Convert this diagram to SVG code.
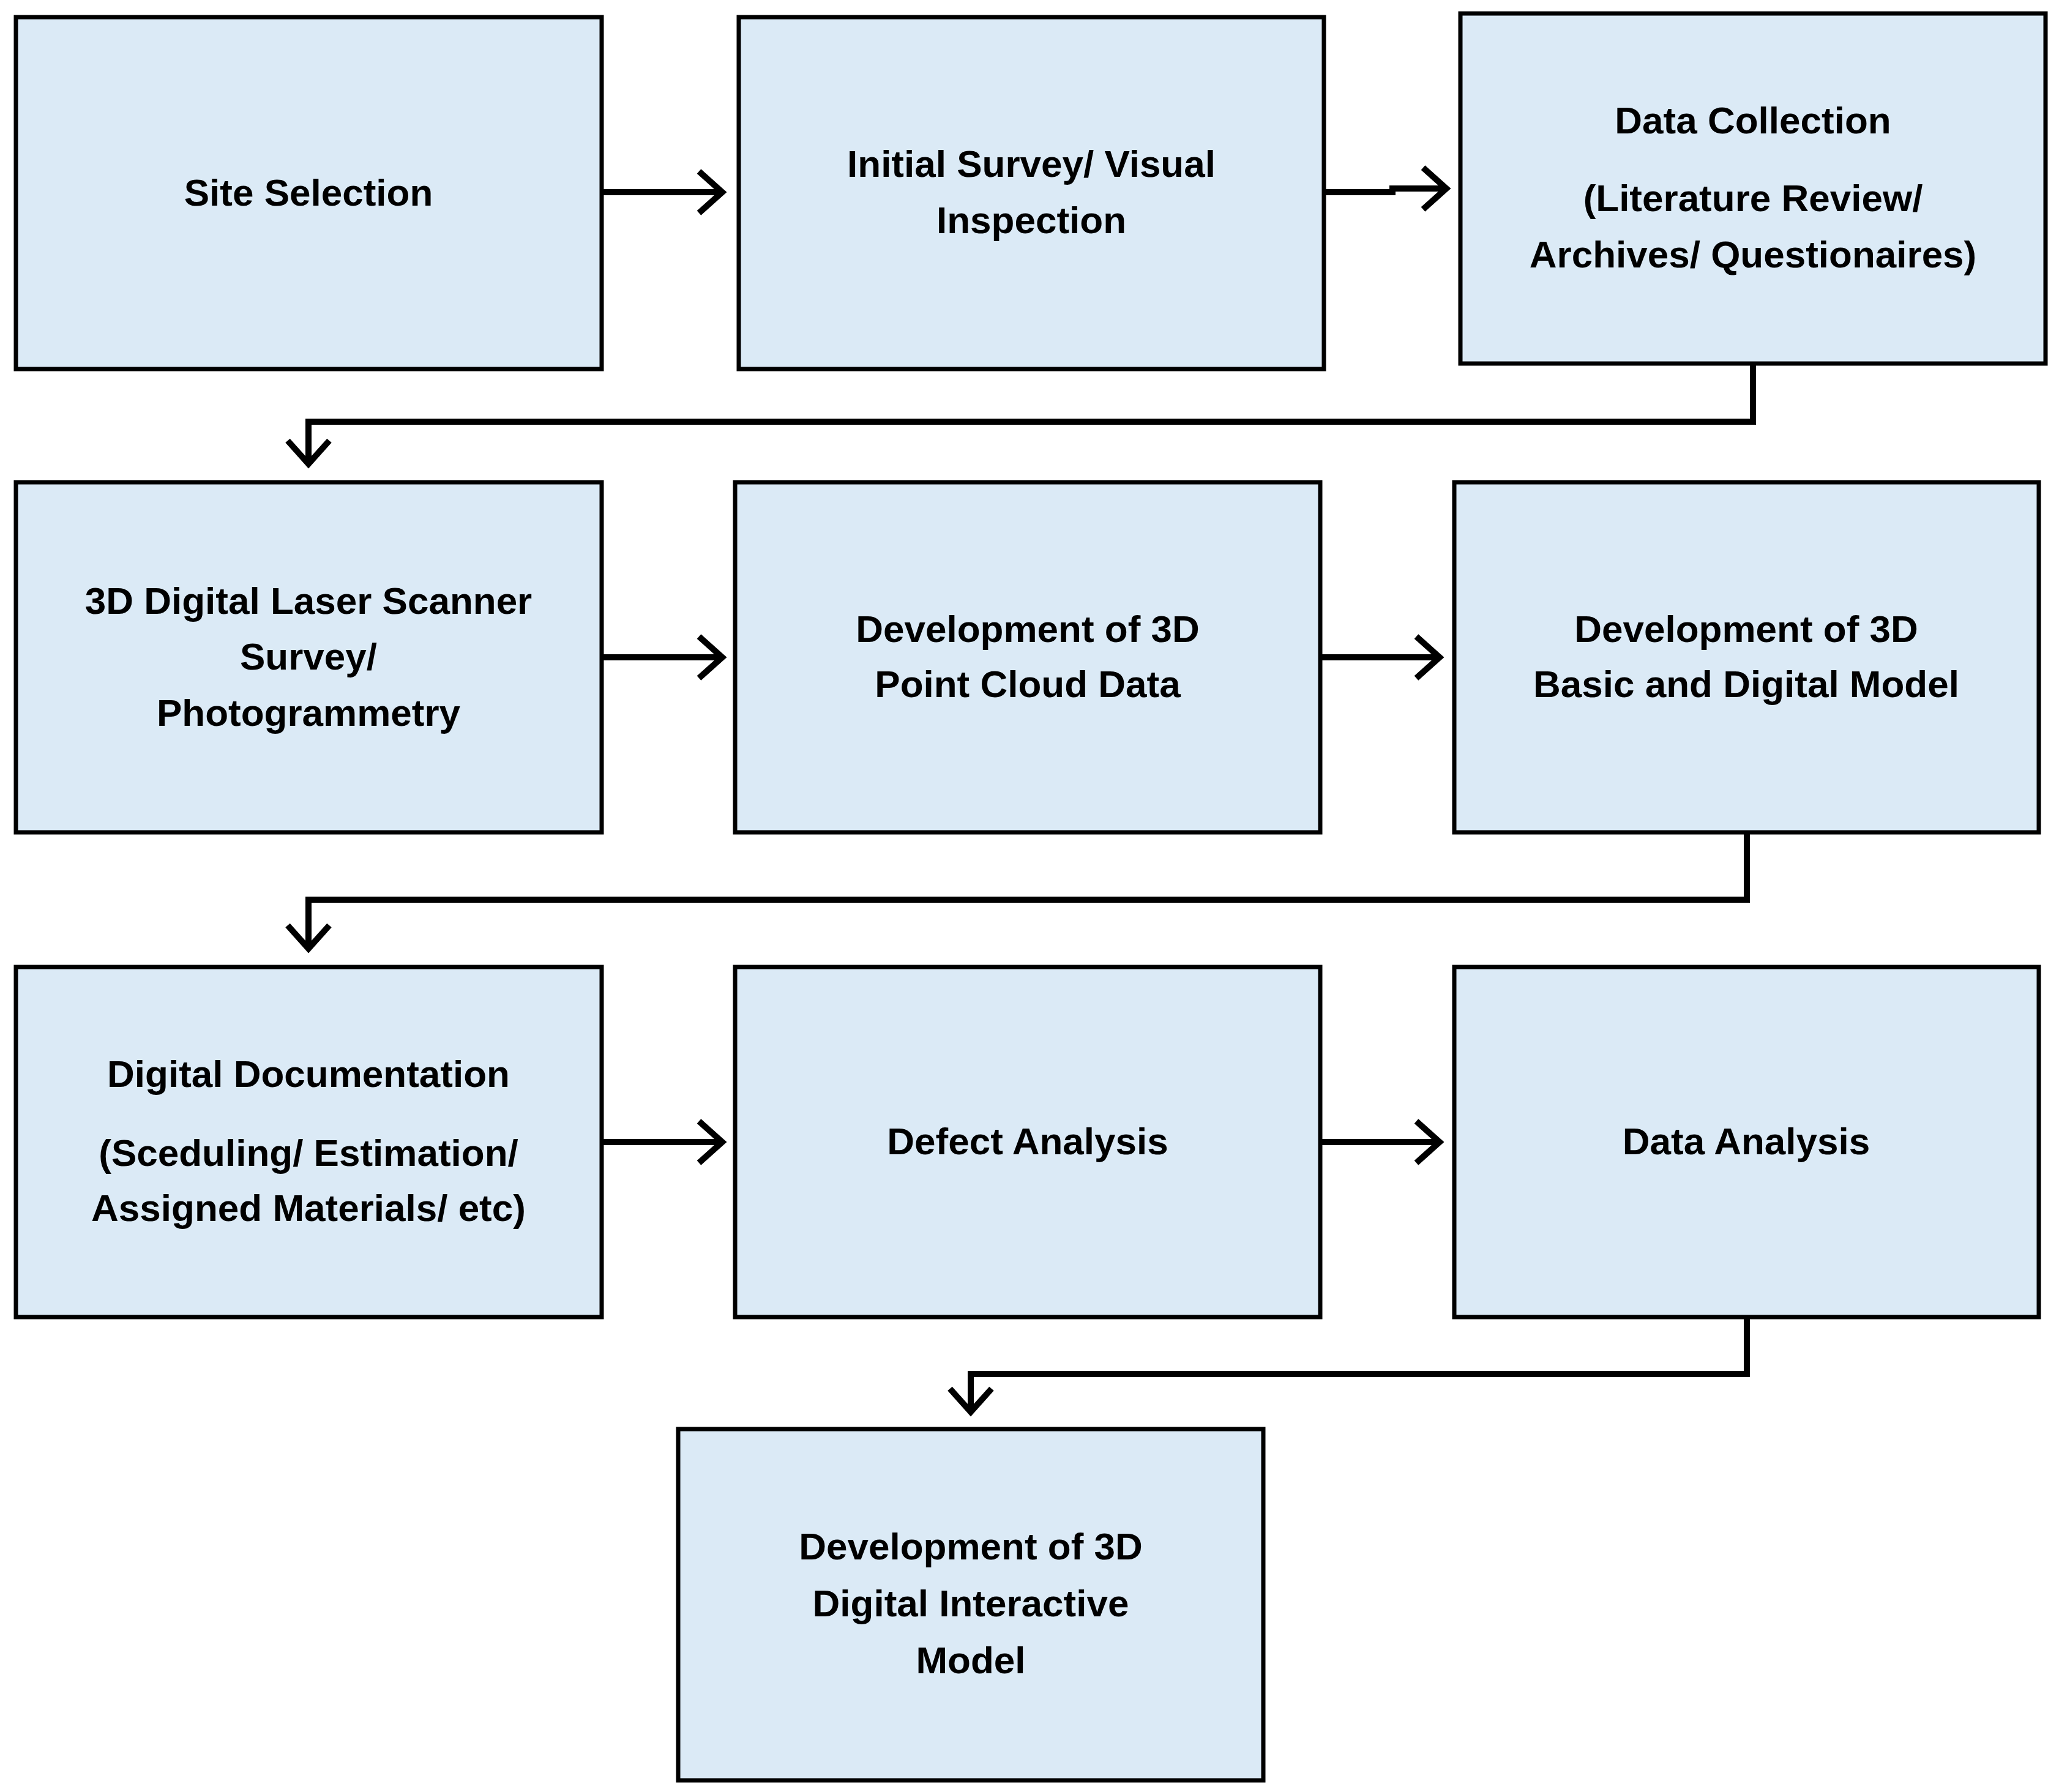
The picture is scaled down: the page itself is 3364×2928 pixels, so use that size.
<svg xmlns="http://www.w3.org/2000/svg" width="3364" height="2928" viewBox="0 0 3364 2928">
<style>
.b{fill:#dbeaf6;stroke:#000;stroke-width:7}
.t{font-family:"Liberation Sans",Arial,sans-serif;font-weight:bold;font-size:62px;text-anchor:middle;dominant-baseline:central;fill:#000}
.c{fill:none;stroke:#000;stroke-width:10;marker-end:url(#a)}
</style>
<defs><marker id="a" markerUnits="userSpaceOnUse" markerWidth="60" markerHeight="80" refX="52" refY="40" orient="auto"><path d="M14,6 L52,40 L14,74" fill="none" stroke="#000" stroke-width="10"/></marker></defs>
<rect width="3364" height="2928" fill="#fff"/>
<g id="n1"><rect class="b" x="26" y="28" width="957" height="575"/><text class="t" x="504" y="314">Site Selection</text></g>
<g id="n2"><rect class="b" x="1207" y="28" width="956" height="575"/><text class="t" x="1685" y="267">Initial Survey/ Visual</text><text class="t" x="1685" y="359">Inspection</text></g>
<g id="n3"><rect class="b" x="2386" y="22" width="956" height="572"/><text class="t" x="2864" y="196">Data Collection</text><text class="t" x="2864" y="323">(Literature Review/</text><text class="t" x="2864" y="415">Archives/ Questionaires)</text></g>
<g id="n4"><rect class="b" x="26" y="788" width="957" height="572"/><text class="t" x="504" y="981">3D Digital Laser Scanner</text><text class="t" x="504" y="1072">Survey/</text><text class="t" x="504" y="1164">Photogrammetry</text></g>
<g id="n5"><rect class="b" x="1201" y="788" width="956" height="572"/><text class="t" x="1679" y="1027">Development of 3D</text><text class="t" x="1679" y="1117">Point Cloud Data</text></g>
<g id="n6"><rect class="b" x="2376" y="788" width="955" height="572"/><text class="t" x="2853" y="1027">Development of 3D</text><text class="t" x="2853" y="1117">Basic and Digital Model</text></g>
<g id="n7"><rect class="b" x="26" y="1580" width="957" height="572"/><text class="t" x="504" y="1754">Digital Documentation</text><text class="t" x="504" y="1883">(Sceduling/ Estimation/</text><text class="t" x="504" y="1973">Assigned Materials/ etc)</text></g>
<g id="n8"><rect class="b" x="1201" y="1580" width="956" height="572"/><text class="t" x="1679" y="1864">Defect Analysis</text></g>
<g id="n9"><rect class="b" x="2376" y="1580" width="955" height="572"/><text class="t" x="2853" y="1864">Data Analysis</text></g>
<g id="n10"><rect class="b" x="1108" y="2335" width="956" height="574"/><text class="t" x="1586" y="2526">Development of 3D</text><text class="t" x="1586" y="2619">Digital Interactive</text><text class="t" x="1586" y="2712">Model</text></g>
<g id="connectors">
<path class="c" d="M983,314 H1180"/>
<path class="c" d="M2163,314 H2275 V308 H2363"/>
<path class="c" d="M2864,594 V689 H504 V758"/>
<path class="c" d="M983,1074 H1180"/>
<path class="c" d="M2157,1074 H2352"/>
<path class="c" d="M2854,1360 V1470 H504 V1550"/>
<path class="c" d="M983,1866 H1180"/>
<path class="c" d="M2157,1866 H2352"/>
<path class="c" d="M2854,2152 V2245 H1586 V2307"/>
</g>
</svg>
